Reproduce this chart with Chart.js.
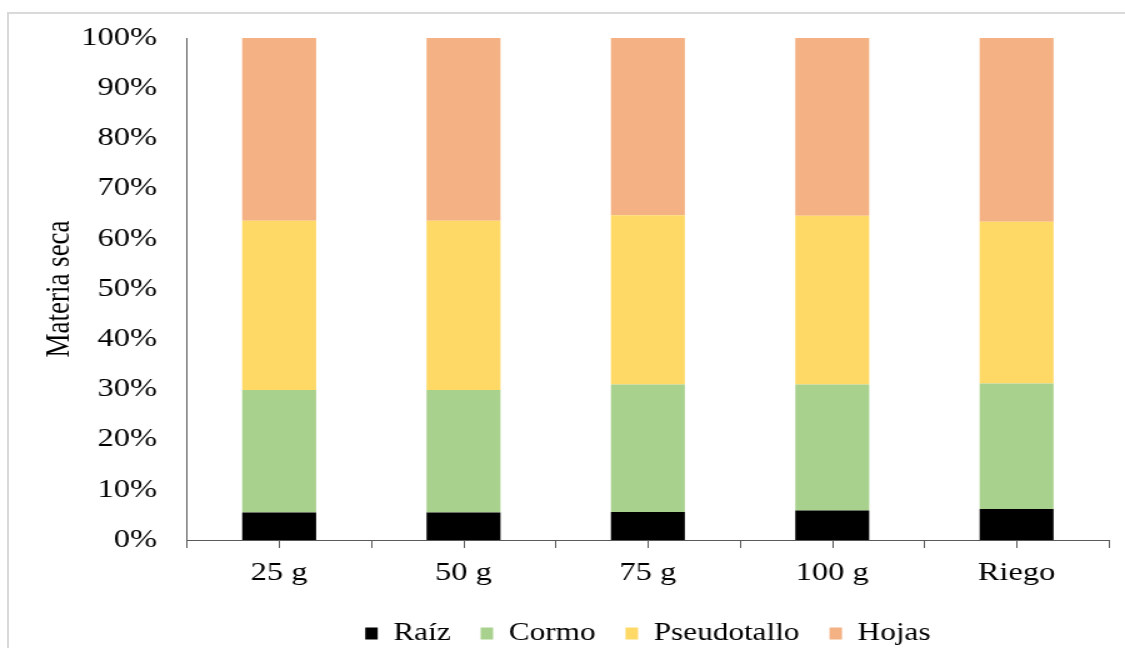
<!DOCTYPE html>
<html>
<head>
<meta charset="utf-8">
<script src="https://cdn.jsdelivr.net/npm/chart.js@4/dist/chart.umd.min.js"></script>
<style>
  html, body { margin:0; padding:0; background:#fff; overflow:hidden; }
  #wrap { position:relative; width:1125px; height:648px; }
  #frame { position:absolute; left:7px; top:12px; right:-10px; bottom:-10px; border:2px solid #d9d9d9; }
  #chart { position:absolute; left:0; top:0; width:1125px; height:648px; }
</style>
</head>
<body>
<div id="wrap">
  <div id="frame"></div>
  <!-- drawn narrower and stretched sideways, like the pasted original -->
  <canvas id="chart" width="900" height="648" style="width:1125px;height:648px"></canvas>
</div>
<script>
const categories = ['25 g', '50 g', '75 g', '100 g', 'Riego'];
const raiz        = [5.5, 5.5, 5.6, 5.9, 6.2];
const cormo       = [24.4, 24.4, 25.4, 25.1, 25.0];
const pseudotallo = [33.7, 33.7, 33.7, 33.6, 32.2];
const hojas       = [36.4, 36.4, 35.3, 35.4, 36.6];
const yTicks = [0, 10, 20, 30, 40, 50, 60, 70, 80, 90, 100];

const FONT = 'Liberation Serif, Times New Roman, serif';
const AXIS = '#595959';

// ticks under each category centre (Excel draws them too)
const centreTicks = {
  id: 'centreTicks',
  afterDraw(chart) {
    const x = chart.scales.x, ctx = chart.ctx;
    ctx.save();
    ctx.strokeStyle = AXIS;
    ctx.lineWidth = 1;
    categories.forEach((c, i) => {
      const px = Math.round(x.getPixelForValue(i)) + 0.5;
      ctx.beginPath();
      ctx.moveTo(px, x.top);
      ctx.lineTo(px, x.top + 8);
      ctx.stroke();
    });
    ctx.restore();
  }
};

const ds = (label, data, color) => ({
  label, data, backgroundColor: color, borderWidth: 0,
  barPercentage: 0.401, categoryPercentage: 1.0,
});

new Chart(document.getElementById('chart').getContext('2d'), {
  type: 'bar',
  data: {
    labels: categories,
    datasets: [
      ds('Raíz', raiz, '#000000'),
      ds('Cormo', cormo, '#a9d18e'),
      ds('Pseudotallo', pseudotallo, '#ffd966'),
      ds('Hojas', hojas, '#f4b183'),
    ]
  },
  options: {
    responsive: false,
    devicePixelRatio: 1,
    animation: false,
    layout: { padding: { left: 28, right: 13, top: 38, bottom: -8 } },
    plugins: {
      tooltip: { enabled: false },
      legend: {
        position: 'bottom',
        fullSize: false,
        labels: { font: { family: FONT, size: 25 }, color: '#000', boxWidth: 10, boxHeight: 12, padding: 24 }
      }
    },
    scales: {
      x: {
        stacked: true,
        afterFit: s => { s.height = 57; },
        grid: { display: true, drawOnChartArea: false, drawTicks: true, tickLength: 8, color: AXIS, offset: true },
        border: { display: true, color: AXIS, width: 1 },
        ticks: { font: { family: FONT, size: 26 }, color: '#000', padding: 10 }
      },
      y: {
        stacked: true,
        min: 0, max: 100,
        afterBuildTicks: s => { s.ticks = yTicks.map(v => ({ value: v })); },
        afterFit: s => { s.width = 121.6; },
        grid: { display: false },
        border: { display: true, color: AXIS, width: 1 },
        ticks: { font: { family: FONT, size: 26 }, color: '#000', padding: 16, callback: v => v + '%' },
        title: { display: true, text: 'Materia seca', font: { family: FONT, size: 27 }, color: '#000', padding: 4 }
      }
    }
  },
  plugins: [centreTicks]
});
</script>
</body>
</html>
